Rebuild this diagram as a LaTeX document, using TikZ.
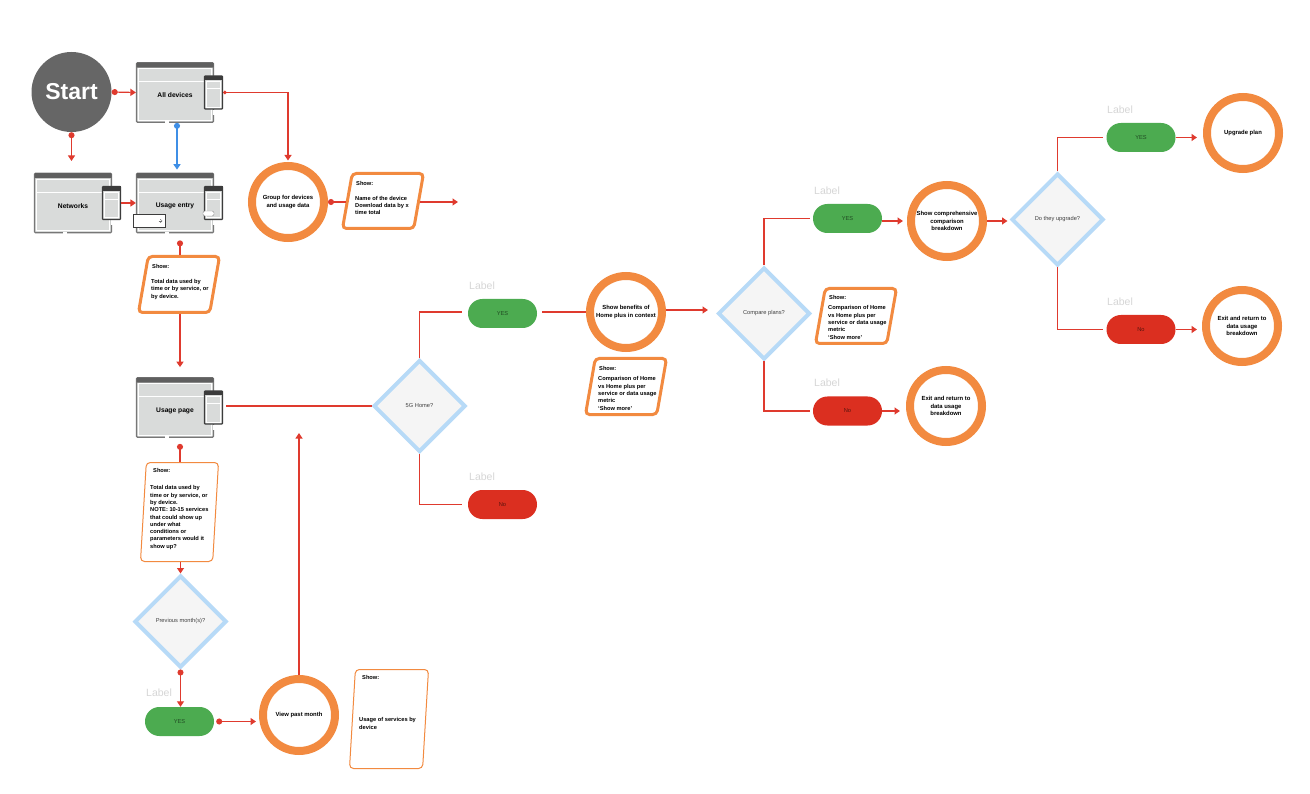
\documentclass[tikz,border=0pt]{standalone}
\usepackage{fontspec}
\setmainfont{Liberation Sans}
\usetikzlibrary{arrows.meta,shapes.geometric}
\definecolor{flowred}{HTML}{DF3A2E}
\definecolor{flowblue}{HTML}{3F8FE6}
\definecolor{ringorange}{HTML}{F28A40}
\definecolor{dialine}{HTML}{B7DAF7}
\definecolor{diafill}{HTML}{F5F5F5}
\definecolor{screenfill}{HTML}{D9DBDA}
\definecolor{screenline}{HTML}{777777}
\definecolor{phoneline}{HTML}{3C3C3C}
\definecolor{yesgreen}{HTML}{4CAB50}
\definecolor{nored}{HTML}{DB2F20}
\definecolor{labelgray}{HTML}{D6D6D6}
\tikzset{
  flow/.style={draw=flowred,line width=1.2pt,-{Triangle[length=5.5pt,width=7pt]}},
  dotflow/.style={draw=flowred,line width=1.2pt,{Circle[length=6pt,width=6pt]}-{Triangle[length=5.5pt,width=7pt]}},
  smalldotflow/.style={draw=flowred,line width=1.2pt,{Circle[length=3.5pt,width=3.5pt]}-{Triangle[length=5.5pt,width=7pt]}},
  dotline/.style={draw=flowred,line width=1.2pt,{Circle[length=6pt,width=6pt]}-},
  plainline/.style={draw=flowred,line width=1.2pt},
  blueflow/.style={draw=flowblue,line width=1.2pt,{Circle[length=6pt,width=6pt]}-{Triangle[length=5.5pt,width=7pt]}},
  startnode/.style={circle,fill=black!60,minimum size=80pt,inner sep=0pt,text=white,font=\fontsize{23}{23}\selectfont\bfseries},
  ring/.style={circle,draw=ringorange,fill=white,line width=8pt,minimum size=72pt,inner sep=0pt,align=center,font=\fontsize{5.9}{7.3}\selectfont\bfseries},
  decision/.style={diamond,aspect=1,draw=dialine,fill=diafill,line width=4pt,minimum size=92pt,inner sep=0pt,text=black!75,font=\fontsize{5.7}{7}\selectfont},
  pill/.style={rectangle,rounded corners=14.4pt,minimum width=69pt,minimum height=29pt,inner sep=0pt,font=\fontsize{5.7}{7}\selectfont},
  yespill/.style={pill,fill=yesgreen,text=black!55!yesgreen},
  nopill/.style={pill,fill=nored,text=black!60!nored},
  tag/.style={anchor=west,inner sep=0pt,text=labelgray,font=\fontsize{10.5}{12}\selectfont},
  infotext/.style={anchor=north west,inner sep=0pt,align=left,font=\fontsize{5.7}{7.3}\selectfont\bfseries},
  infoshape/.style={trapezium,trapezium stretches=true,draw=ringorange,fill=white,rounded corners=4pt,inner sep=0pt},
  screenbox/.style={rectangle,draw=screenline,fill=screenfill,line width=1.2pt,rounded corners=1pt,minimum width=77pt,minimum height=59.5pt,inner sep=0pt},
  screentext/.style={inner sep=0pt,font=\fontsize{6.7}{8}\selectfont\bfseries},
  phonebox/.style={rectangle,draw=phoneline,fill=screenfill,line width=1.2pt,rounded corners=.8pt,minimum width=18pt,minimum height=33pt,inner sep=0pt},
}
% name, centre x, centre y, text
\newcommand\screenunit[4]{%
  \node[screenbox] (#1) at (#2,#3) {};
  \begin{scope}[shift={(#2-38.5,#3-29.75)}]
    \fill[screenline!80!black,rounded corners=.6pt] (0,0) rectangle (77,4.8);
    \draw[white,line width=.9pt] (2.2,6) rectangle (74.8,57.5);
    \draw[white,line width=.9pt] (2.2,19) -- (74.8,19);
    \fill[white] (28,58.5) rectangle (32,60.5);
    \fill[white] (76,47) rectangle (78,52);
  \end{scope}
  \node[phonebox] (#1p) at (#2+38.5,#3) {};
  \begin{scope}[shift={(#2+29.5,#3-16.5)}]
    \fill[phoneline] (0,0) rectangle (18,4.5);
    \draw[white,line width=.8pt] (1.8,5.5) rectangle (16.2,31.4);
    \draw[white,line width=.8pt] (1.8,12.5) -- (16.2,12.5);
  \end{scope}
  \node[screentext] (#1t) at (#2,#3+3) {#4};
}
% name, left x of base, right x of top, top y, bottom y, angle, line width
\newcommand\infoshape[7]{%
  \pgfmathtruncatemacro\rightang{180-#6}%
  \node[infoshape,line width=#7pt,minimum width={#3-#2-#7},minimum height={#5-#4-#7},
    trapezium left angle=#6,trapezium right angle=\rightang] (#1) at ({(#2+#3)/2},{(#4+#5)/2}) {\phantom{\rule{2pt}{2pt}}};
}
\begin{document}
\begin{tikzpicture}[x=1pt,y=-1pt]
\useasboundingbox (0,0) rectangle (1310,794);
\fill[white] (0,0) rectangle (1310,794);

% screens
\node[startnode] (start) at (71.5,92) {\raisebox{-3.5pt}{Start}};
\screenunit{alldev}{175}{92.5}{All devices}
\screenunit{networks}{73}{203}{Networks}
\screenunit{entry}{175}{203}{Usage entry}
\screenunit{page}{175}{407.5}{Usage page}
\node[rectangle,draw=phoneline,fill=white,line width=1.2pt,minimum width=32pt,minimum height=13pt,inner sep=0pt] (entrybtn) at (149.5,221) {};
\draw[black!55,line width=.4pt,-{Straight Barb[length=2pt,width=3.5pt]}] ([xshift=9pt]entrybtn.center) -- ([xshift=13pt]entrybtn.center);
\node[rectangle,rounded corners=1.5pt,draw=black!45,fill=white,line width=.4pt,minimum width=11pt,minimum height=5pt,inner sep=0pt] (entrypill) at (208.5,213.5) {};

% rings
\node[ring] (group) at (288,202) {Group for devices\\and usage data};
\node[ring] (past) at (299,715) {View past month};
\node[ring] (benefit) at (626,312) {Show benefits of\\Home plus in context};
\node[ring] (compare) at (947,221) {Show comprehensive\\comparison\\breakdown};
\node[ring] (exita) at (946,406) {Exit and return to\\data usage\\breakdown};
\node[ring] (upgrade) at (1243,133) {Upgrade plan};
\node[ring] (exitb) at (1242,326) {Exit and return to\\data usage\\breakdown};

% decisions
\node[decision] (dprev) at (180.5,621.5) {Previous month(s)?};
\node[decision] (dhome) at (419.5,406) {5G Home?};
\node[decision] (dplans) at (764,313.5) {Compare plans?};
\node[decision] (dup) at (1057.5,219.5) {Do they upgrade?};

% pills and their labels
\node[yespill] (pprev) at (179.5,721.5) {YES};
\node[tag] (tprev) at (146,693) {Label};
\node[yespill] (phomey) at (502.5,313.5) {YES};
\node[tag] (thomey) at (469,286) {Label};
\node[nopill] (phomen) at (502.5,504.5) {No};
\node[tag] (thomen) at (469,477) {Label};
\node[yespill] (pplansy) at (847.5,218.5) {YES};
\node[tag] (tplansy) at (814,191) {Label};
\node[nopill] (pplansn) at (847.5,411) {No};
\node[tag] (tplansn) at (814,383) {Label};
\node[yespill] (pupy) at (1141,137.5) {YES};
\node[tag] (tupy) at (1107,110) {Label};
\node[nopill] (pupn) at (1141,329.5) {No};
\node[tag] (tupn) at (1107,302) {Label};

% information boxes
\infoshape{igroup}{341}{425}{172}{230}{81}{3}
\node[infotext] (igroupt) at (355,181.5) {\hspace*{1pt}Show:\\[7pt]Name of the device\\Download data by x\\time total};
\infoshape{ientry}{137}{221}{255}{314}{81}{3}
\node[infotext] (ientryt) at (151,264.5) {\hspace*{1pt}Show:\\[7.5pt]Total data used by\\time or by service, or\\by device.};
\infoshape{ipage}{140}{219}{462}{562}{85}{1}
\node[infotext] (ipaget) at (150,468.5) {\hspace*{3pt}Show:\\[9.7pt]Total data used by\\time or by service, or\\by device.\\NOTE: 10-15 services\\that could show up\\under what\\conditions or\\parameters would it\\show up?};
\infoshape{ipast}{349}{429}{669}{769}{85}{1}
\node[infotext] (ipastt) at (359,675.5) {\hspace*{3pt}Show:\\[34.7pt]Usage of services by\\device};
\infoshape{ibenefit}{584}{668}{357}{416}{81}{3}
\node[infotext] (ibenefitt) at (598,366.5) {\hspace*{1pt}Show:\\[2.7pt]Comparison of Home\\vs Home plus per\\service or data usage\\metric\\‘Show more’};
\infoshape{iplans}{814}{898}{287}{345}{81}{3}
\node[infotext] (iplanst) at (828,295.5) {\hspace*{1pt}Show:\\[2.7pt]Comparison of Home\\vs Home plus per\\service or data usage\\metric\\‘Show more’};

% connectors
\coordinate (netend) at (71.5,161);
\coordinate (groupend) at (458,202);
\coordinate (pastend) at (299,433);
\draw[dotflow] (start.east) -- (alldev.west);
\draw[dotflow] (start.south) -- (netend);
\draw[blueflow] ([xshift=2pt]alldev.south) -- ([xshift=2pt,yshift=3pt]entry.north);
\draw[flow] (networksp.east) -- (entry.west);
\draw[smalldotflow,shorten >=1.5pt] (alldevp.east) -| (group.north);
\draw[dotline] (group.east) -- (group.east -| igroup.west);
\draw[flow] (groupend -| igroup.east) -- (groupend);
\draw[dotline,shorten <=7pt] ([xshift=5pt]entry.south) -- ([xshift=5pt]entry.south |- ientry.north);
\draw[flow,shorten >=10pt] ([xshift=5pt]page.north |- ientry.south) -- ([xshift=5pt]page.north);
\draw[dotline,shorten <=6pt] ([xshift=5pt]page.south) -- ([xshift=5pt]page.south |- ipage.north);
\draw[flow] (dprev.north |- ipage.south) -- (dprev.north);
\draw[dotflow] (dprev.south) -- (dprev.south |- pprev.north);
\draw[dotflow,shorten <=2pt,shorten >=3pt] (pprev.east) -- (pprev.east -| past.west);
\draw[flow] (past.north) -- (pastend);
\draw[plainline] ([xshift=3pt]dhome.west -| pagep.east) -- (dhome.west);
\draw[plainline,shorten >=6pt] (dhome.north) |- ([yshift=1.5pt]phomey.west);
\draw[plainline,shorten >=6pt] (dhome.south) |- (phomen.west);
\draw[plainline,shorten <=5pt] (phomey.east |- benefit.west) -- (benefit.west);
\draw[flow,shorten >=8pt] ([yshift=2pt]benefit.east) -- ([yshift=2pt]benefit.east -| dplans.west);
\draw[plainline,shorten >=3pt] (dplans.north) |- (pplansy.west);
\draw[plainline,shorten >=3pt] (dplans.south) |- (pplansn.west);
\draw[flow,shorten >=4pt] (pplansy.east |- compare.west) -- (compare.west);
\draw[flow,shorten >=6pt] (pplansn.east) -- (pplansn.east -| exita.west);
\draw[flow,shorten >=2pt] (compare.east) -- (compare.east -| dup.west);
\draw[plainline,shorten >=3pt] (dup.north) |- (pupy.west);
\draw[plainline,shorten >=3pt] (dup.south) |- (pupn.west);
\draw[flow,shorten >=6pt] (pupy.east) -- (pupy.east -| upgrade.west);
\draw[flow,shorten >=5pt] (pupn.east) -- (pupn.east -| exitb.west);
\end{tikzpicture}
\end{document}
